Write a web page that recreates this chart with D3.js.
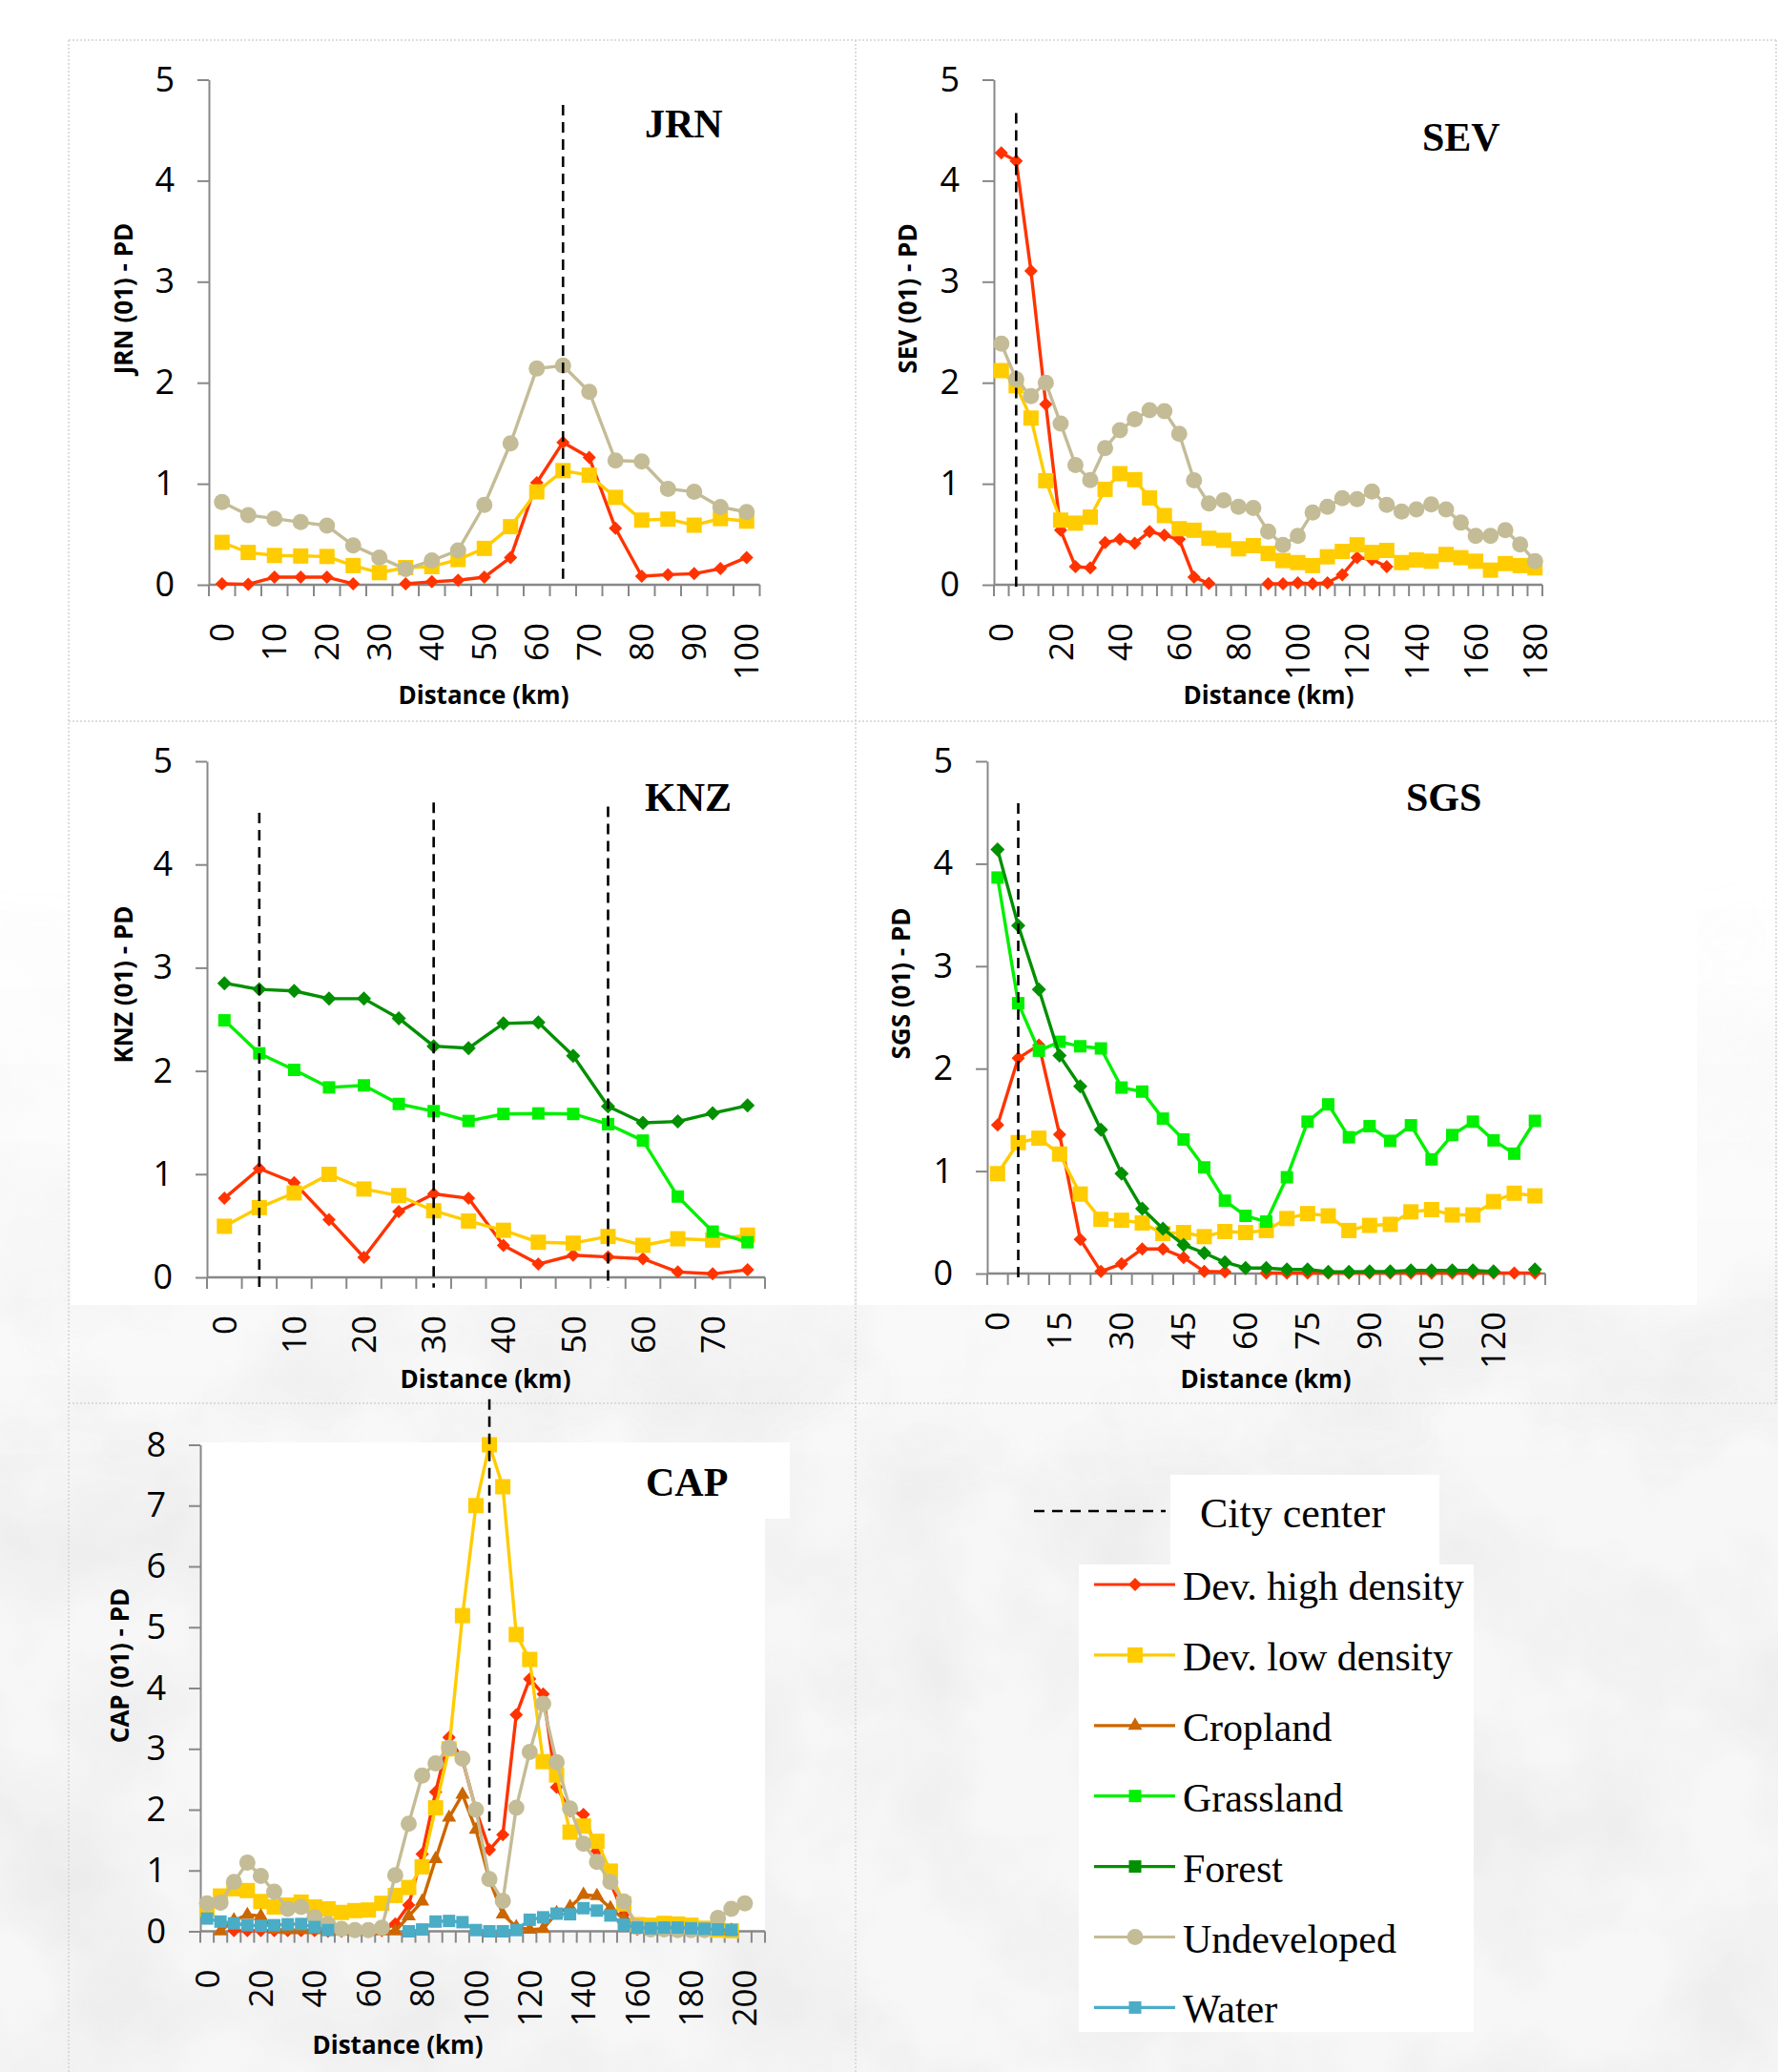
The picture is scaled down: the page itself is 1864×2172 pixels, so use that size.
<!DOCTYPE html>
<html>
<head>
<meta charset="utf-8">
<script src="https://cdn.jsdelivr.net/npm/d3@7"></script>
<style>
  html, body { margin: 0; padding: 0; background: #fff; }
  svg { display: block; }
</style>
</head>
<body>
<svg id="fig" width="1864" height="2172"></svg>
<script>
// ---------- data ----------
const kmJRN = [0,5,10,15,20,25,30,35,40,45,50,55,60,65,70,75,80,85,90,95,100];
const labJRN = [0,10,20,30,40,50,60,70,80,90,100];
const jrnDevHigh = [0.01,0.005,0.075,0.075,0.075,0.01,null,0.01,0.03,0.045,0.075,0.27,1.01,1.41,1.26,0.56,0.085,0.10,0.11,0.16,0.27];
const jrnDevLow  = [0.42,0.32,0.29,0.285,0.28,0.19,0.12,0.17,0.18,0.25,0.36,0.575,0.92,1.13,1.085,0.865,0.64,0.65,0.59,0.655,0.63];
const jrnUndev   = [0.82,0.69,0.655,0.62,0.585,0.39,0.27,0.155,0.24,0.34,0.79,1.40,2.14,2.17,1.91,1.23,1.22,0.95,0.92,0.77,0.72];

const kmSEV = [0,5,10,15,20,25,30,35,40,45,50,55,60,65,70,75,80,85,90,95,100,105,110,115,120,125,130,135,140,145,150,155,160,165,170,175,180];
const labSEV = [0,20,40,60,80,100,120,140,160,180];
const sevDevHigh = [4.275,4.195,3.106,1.788,0.54,0.18,0.167,0.417,0.45,0.41,0.527,0.49,0.45,0.075,0.013,null,null,null,0.01,0.01,0.02,0.01,0.02,0.10,0.27,0.25,0.18,null,null,null,null,null,null,null,null,null,null];
const sevDevLow  = [2.12,1.97,1.65,1.03,0.64,0.61,0.67,0.945,1.10,1.04,0.86,0.685,0.555,0.54,0.46,0.44,0.356,0.387,0.31,0.24,0.22,0.19,0.277,0.33,0.395,0.32,0.34,0.22,0.246,0.233,0.30,0.268,0.233,0.145,0.21,0.19,0.167];
const sevUndev   = [2.386,2.034,1.867,2.0,1.595,1.186,1.037,1.353,1.529,1.639,1.727,1.718,1.494,1.033,0.804,0.835,0.773,0.76,0.527,0.395,0.483,0.716,0.773,0.857,0.848,0.923,0.79,0.725,0.747,0.795,0.747,0.615,0.483,0.483,0.54,0.40,0.233];

const kmKNZ = [0,5,10,15,20,25,30,35,40,45,50,55,60,65,70,75];
const labKNZ = [0,10,20,30,40,50,60,70];
const knzDevHigh = [0.766,1.054,0.917,0.56,0.194,0.637,0.809,0.766,0.31,0.129,0.215,0.198,0.18,0.052,0.034,0.073];
const knzDevLow  = [0.495,0.676,0.818,0.998,0.856,0.792,0.645,0.546,0.456,0.34,0.331,0.396,0.31,0.374,0.361,0.409];
const knzGrass   = [2.49,2.17,2.01,1.84,1.86,1.68,1.61,1.515,1.583,1.588,1.583,1.484,1.325,0.783,0.443,0.34];
const knzForest  = [2.85,2.79,2.775,2.70,2.70,2.51,2.24,2.22,2.46,2.47,2.147,1.657,1.497,1.51,1.59,1.665];

const kmSGS = [0,5,10,15,20,25,30,35,40,45,50,55,60,65,70,75,80,85,90,95,100,105,110,115,120,125,130];
const labSGS = [0,15,30,45,60,75,90,105,120];
const sgsDevHigh = [1.451,2.101,2.231,1.356,0.334,0.02,0.095,0.24,0.24,0.157,0.02,0.017,null,0.005,0.005,0.005,0.005,0.005,0.005,0.005,0.005,0.005,0.005,0.005,0.005,0.005,0.005];
const sgsDevLow  = [0.975,1.278,1.321,1.166,0.776,0.529,0.52,0.494,0.39,0.40,0.36,0.41,0.40,0.42,0.537,0.585,0.563,0.42,0.47,0.48,0.602,0.624,0.572,0.572,0.702,0.784,0.758];
const sgsGrass   = [3.865,2.639,2.175,2.262,2.218,2.197,1.815,1.776,1.512,1.308,1.036,0.711,0.563,0.507,0.94,1.482,1.651,1.33,1.438,1.295,1.447,1.114,1.352,1.482,1.30,1.17,1.49];
const sgsForest  = [4.138,3.397,2.773,2.127,1.828,1.404,0.975,0.633,0.438,0.28,0.20,0.11,0.054,0.054,0.04,0.04,0.017,0.017,0.02,0.02,0.03,0.03,0.03,0.03,0.02,null,0.04];

const kmCAP = [0,5,10,15,20,25,30,35,40,45,50,55,60,65,70,75,80,85,90,95,100,105,110,115,120,125,130,135,140,145,150,155,160,165,170,175,180,185,190,195,200,205];
const labCAP = [0,20,40,60,80,100,120,140,160,180,200];
const capDevHigh = [null,null,0.01,0.01,0.01,0.01,0.01,0.01,0.01,0,0,0,0,0.01,0.12,0.43,1.27,2.29,3.19,2.82,2.0,1.34,1.59,3.56,4.15,3.90,2.37,1.98,1.92,1.32,0.80,0.28,0.03,0.01,0.01,0.01,0.01,0.01,0.01,0.01,null,null];
const capDevLow  = [0.36,0.58,0.70,0.67,0.49,0.40,0.43,0.48,0.40,0.37,0.31,0.34,0.35,0.46,0.59,0.72,1.06,2.03,3.0,5.19,7.0,8.0,7.31,4.88,4.47,2.79,2.57,1.63,1.73,1.48,0.99,0.45,0.11,0.10,0.13,0.12,0.10,0.05,0.02,0.01,null,null];
const capCrop    = [null,0,0.18,0.27,0.25,0.03,0.02,0.02,0.02,0,0,0,0,0,0,0.25,0.49,1.19,1.87,2.25,1.67,0.85,0.28,0.07,0.03,0.04,0.30,0.40,0.60,0.58,0.38,0.20,0.03,0.01,0.01,0.01,0.01,0.01,0.01,0.01,null,null];
const capUndev   = [0.46,0.47,0.81,1.13,0.91,0.65,0.37,0.40,0.23,0.12,0.04,0.02,0.02,0.06,0.92,1.77,2.56,2.76,3.02,2.84,2.0,0.86,0.50,2.03,2.95,3.74,2.78,2.02,1.44,1.14,0.81,0.49,0.07,0.03,0.03,0.02,0.02,0.02,0.22,0.37,0.46,null];
const capWater   = [0.21,0.16,0.13,0.10,0.09,0.10,0.115,0.12,0.07,0.02,null,null,null,null,null,0,0.03,0.16,0.17,0.15,0.02,0,0,0.02,0.19,0.23,0.29,0.28,0.38,0.34,0.26,0.11,0.06,0.05,0.06,0.06,0.05,0.04,0.03,0.02,null,null];

const ticks5 = [0,1,2,3,4,5];
const ticks8 = [0,1,2,3,4,5,6,7,8];

// city centre positions (km)
const cityJRN = [65];
const citySEV = [5];
const cityKNZ = [5, 30, 55];
const citySGS = [5];
const cityCAP = [105];

// ---------- styles ----------
const SANS = '"Open Sans", "DejaVu Sans", sans-serif';
const SERIF = '"Liberation Serif", "Times New Roman", serif';
const AXIS = '#888888';

const styles = {
  devHigh: {label: 'Dev. high density', color: '#FF3300', shape: 'diamond', size: 14},
  devLow:  {label: 'Dev. low density',  color: '#FFCC00', shape: 'square',  size: 16},
  crop:    {label: 'Cropland',          color: '#CC6600', shape: 'triangle', size: 15},
  grass:   {label: 'Grassland',         color: '#00F000', shape: 'square',  size: 13},
  forest:  {label: 'Forest',            color: '#009000', shape: 'diamond', size: 15, legendShape: 'square'},
  undev:   {label: 'Undeveloped',       color: '#C4BC96', shape: 'circle',  size: 17},
  water:   {label: 'Water',             color: '#4BACC6', shape: 'square',  size: 13}
};
const order = ['devHigh', 'devLow', 'crop', 'grass', 'forest', 'undev', 'water'];

// ---------- panel layout ----------
const panels = [
  {name: 'JRN', km: kmJRN, xLabels: labJRN, yTicks: ticks5, yMax: 5,
   series: {devHigh: jrnDevHigh, devLow: jrnDevLow, undev: jrnUndev},
   city: cityJRN, cityTop: [4.75], cityBottom: 0.06,
   left: 219, right: 796.5, top: 83.5, bottom: 613,
   yTitle: [130, 313], xTitle: [507, 738], title: [676, 144]},
  {name: 'SEV', km: kmSEV, xLabels: labSEV, yTicks: ticks5, yMax: 5,
   series: {devHigh: sevDevHigh, devLow: sevDevLow, undev: sevUndev},
   city: citySEV, cityTop: [4.67], cityBottom: -0.02,
   left: 1042, right: 1617, top: 83.5, bottom: 613,
   yTitle: [952, 313], xTitle: [1330, 738], title: [1491, 158]},
  {name: 'KNZ', km: kmKNZ, xLabels: labKNZ, yTicks: ticks5, yMax: 5,
   series: {devHigh: knzDevHigh, devLow: knzDevLow, grass: knzGrass, forest: knzForest},
   city: cityKNZ, cityTop: [4.5, 4.6, 4.56], cityBottom: -0.1,
   left: 217, right: 802, top: 798, bottom: 1339,
   yTitle: [130, 1032], xTitle: [509, 1455], title: [676, 850]},
  {name: 'SGS', km: kmSGS, xLabels: labSGS, yTicks: ticks5, yMax: 5,
   series: {devHigh: sgsDevHigh, devLow: sgsDevLow, grass: sgsGrass, forest: sgsForest},
   city: citySGS, cityTop: [4.59], cityBottom: -0.04,
   left: 1035, right: 1620, top: 798, bottom: 1335,
   yTitle: [945, 1031], xTitle: [1327, 1455], title: [1474, 850]},
  {name: 'CAP', km: kmCAP, xLabels: labCAP, yTicks: ticks8, yMax: 8,
   series: {devHigh: capDevHigh, devLow: capDevLow, crop: capCrop, undev: capUndev, water: capWater},
   city: cityCAP, cityTop: [8.75], cityBottom: 1.66,
   left: 210, right: 802, top: 1514.5, bottom: 2024.5,
   yTitle: [126, 1746], xTitle: [417, 2153], title: [677, 1568]}
];

const svg = d3.select('#fig');

// ---------- background ----------
const defs = svg.append('defs');
const mottle = defs.append('filter').attr('id', 'mottle')
  .attr('x', '0%').attr('y', '0%').attr('width', '100%').attr('height', '100%');
mottle.append('feTurbulence').attr('type', 'fractalNoise')
  .attr('baseFrequency', 0.006).attr('numOctaves', 4).attr('seed', 5);
mottle.append('feColorMatrix').attr('type', 'matrix')
  .attr('values', '0 0 0 0 0.62  0 0 0 0 0.62  0 0 0 0 0.62  0.55 0 0 0 -0.2');
const fade = defs.append('linearGradient').attr('id', 'fade')
  .attr('x1', 0).attr('y1', 0).attr('x2', 0).attr('y2', 1);
fade.append('stop').attr('offset', 0.42).attr('stop-color', '#fff').attr('stop-opacity', 0);
fade.append('stop').attr('offset', 0.72).attr('stop-color', '#fff').attr('stop-opacity', 1);
defs.append('mask').attr('id', 'fadeMask')
  .append('rect').attr('width', 1864).attr('height', 2172).attr('fill', 'url(#fade)');

svg.append('rect').attr('width', 1864).attr('height', 2172).attr('fill', '#f7f7f7')
  .attr('mask', 'url(#fadeMask)');
svg.append('rect').attr('width', 1864).attr('height', 2172)
  .attr('filter', 'url(#mottle)').attr('mask', 'url(#fadeMask)');

// white chart areas
const whites = [
  [0, 0, 1864, 756],
  [74, 758, 821, 610],
  [899, 758, 880, 610],
  [210, 1512, 592, 513],
  [621, 1512, 207, 80],
  [1227, 1546, 282, 94],
  [1131, 1640, 414, 490]
];
svg.append('g').selectAll('rect').data(whites).join('rect')
  .attr('x', d => d[0]).attr('y', d => d[1]).attr('width', d => d[2]).attr('height', d => d[3])
  .attr('fill', '#fff');

// dotted panel borders
const borders = [
  [72, 42, 72, 2172], [897, 42, 897, 2172], [1862, 42, 1862, 1471],
  [72, 42, 1862, 42], [72, 756, 1862, 756], [72, 1471, 1862, 1471]
];
svg.append('g').selectAll('line').data(borders).join('line')
  .attr('x1', d => d[0]).attr('y1', d => d[1]).attr('x2', d => d[2]).attr('y2', d => d[3])
  .attr('stroke', '#d2d2d2').attr('stroke-width', 1.5).attr('stroke-dasharray', '2,2');

// ---------- markers ----------
function markerPath(shape, s) {
  if (shape === 'circle') return d3.symbol(d3.symbolCircle, Math.PI * s * s / 4)();
  if (shape === 'triangle') return d3.symbol(d3.symbolTriangle, Math.sqrt(3) / 4 * s * s)();
  if (shape === 'diamond') return d3.symbol(d3.symbolSquare, s * s / 2)();
  return d3.symbol(d3.symbolSquare, s * s)();
}
function markerTransform(shape, x, y) {
  return `translate(${x},${y})` + (shape === 'diamond' ? ' rotate(45)' : '');
}

// ---------- panels ----------
function drawPanel(p) {
  const g = svg.append('g').attr('class', 'panel-' + p.name);
  const x = d3.scaleBand().domain(p.km).range([p.left, p.right]);
  const y = d3.scaleLinear().domain([0, p.yMax]).range([p.bottom, p.top]);
  const cx = d => x(d) + x.bandwidth() / 2;

  // y axis
  const ya = g.append('g').attr('transform', `translate(${p.left},0)`)
    .call(d3.axisLeft(y).tickValues(p.yTicks).tickFormat(d3.format('d'))
      .tickSize(12).tickPadding(24).tickSizeOuter(0));
  ya.attr('font-family', SANS).attr('font-size', 36);
  ya.selectAll('path, line').attr('stroke', AXIS).attr('stroke-width', 2);
  ya.selectAll('text').attr('fill', '#000');

  // x axis: baseline with a tick at every category boundary
  const xa = g.append('g').attr('transform', `translate(0,${p.bottom})`);
  xa.append('line').attr('x1', p.left).attr('x2', p.right)
    .attr('stroke', AXIS).attr('stroke-width', 2.5);
  const edges = p.km.map(d => x(d)).concat([p.right]);
  xa.selectAll('line.edge').data(edges).join('line').attr('class', 'edge')
    .attr('x1', d => d).attr('x2', d => d).attr('y1', 0).attr('y2', 12)
    .attr('stroke', AXIS).attr('stroke-width', 2);
  const xl = xa.append('g').call(d3.axisBottom(x).tickValues(p.xLabels).tickSize(0));
  xl.select('.domain').remove();
  xl.attr('font-family', SANS).attr('font-size', 35);
  xl.selectAll('text').attr('fill', '#000')
    .attr('transform', 'rotate(-90)').attr('text-anchor', 'end')
    .attr('x', -40).attr('y', 0).attr('dy', '0.36em');

  // series
  order.forEach(key => {
    const vals = p.series[key];
    if (!vals) return;
    const st = styles[key];
    const pts = p.km.map((k, i) => ({k: k, v: vals[i]}));
    g.append('path').datum(pts)
      .attr('d', d3.line().defined(d => d.v != null).x(d => cx(d.k)).y(d => y(d.v)))
      .attr('fill', 'none').attr('stroke', st.color).attr('stroke-width', 3.4)
      .attr('stroke-linejoin', 'round');
    g.append('g').selectAll('path').data(pts.filter(d => d.v != null)).join('path')
      .attr('transform', d => markerTransform(st.shape, cx(d.k), y(d.v)))
      .attr('d', markerPath(st.shape, st.size))
      .attr('fill', st.color);
  });

  // city centre lines
  p.city.forEach((c, i) => {
    g.append('line').attr('x1', cx(c)).attr('x2', cx(c))
      .attr('y1', y(p.cityTop[i])).attr('y2', y(p.cityBottom))
      .attr('stroke', '#000').attr('stroke-width', 2.6).attr('stroke-dasharray', '11,7');
  });

  // titles
  g.append('text').attr('x', p.title[0]).attr('y', p.title[1]).text(p.name)
    .attr('font-family', SERIF).attr('font-weight', 'bold').attr('font-size', 42);
  g.append('text').attr('transform', `translate(${p.yTitle[0]},${p.yTitle[1]}) rotate(-90)`)
    .attr('text-anchor', 'middle').attr('dy', '0.35em')
    .attr('font-family', SANS).attr('font-weight', 'bold').attr('font-size', 26)
    .text(p.name + ' (01) - PD');
  g.append('text').attr('x', p.xTitle[0]).attr('y', p.xTitle[1]).attr('text-anchor', 'middle')
    .attr('font-family', SANS).attr('font-weight', 'bold').attr('font-size', 26)
    .text('Distance (km)');
}

panels.forEach(drawPanel);

// ---------- legend ----------
const leg = svg.append('g').attr('class', 'legend');
leg.append('line').attr('x1', 1084).attr('x2', 1222).attr('y1', 1584).attr('y2', 1584)
  .attr('stroke', '#000').attr('stroke-width', 2.6).attr('stroke-dasharray', '11,8');
leg.append('text').attr('x', 1258).attr('y', 1601).text('City center')
  .attr('font-family', SERIF).attr('font-size', 44);

const rows = leg.selectAll('g.row').data(order).join('g').attr('class', 'row')
  .attr('transform', (d, i) => `translate(0,${1661 + i * 73.9})`);
rows.append('line').attr('x1', 1147).attr('x2', 1232)
  .attr('stroke', d => styles[d].color).attr('stroke-width', 3.2);
rows.append('path')
  .attr('transform', d => markerTransform(styles[d].legendShape || styles[d].shape, 1190, 0))
  .attr('d', d => {
    const st = styles[d];
    const shape = st.legendShape || st.shape;
    return markerPath(shape, shape === 'square' && d === 'forest' ? 13 : st.size);
  })
  .attr('fill', d => styles[d].color);
rows.append('text').attr('x', 1240).attr('y', 16).text(d => styles[d].label)
  .attr('font-family', SERIF).attr('font-size', 42);
</script>
</body>
</html>
